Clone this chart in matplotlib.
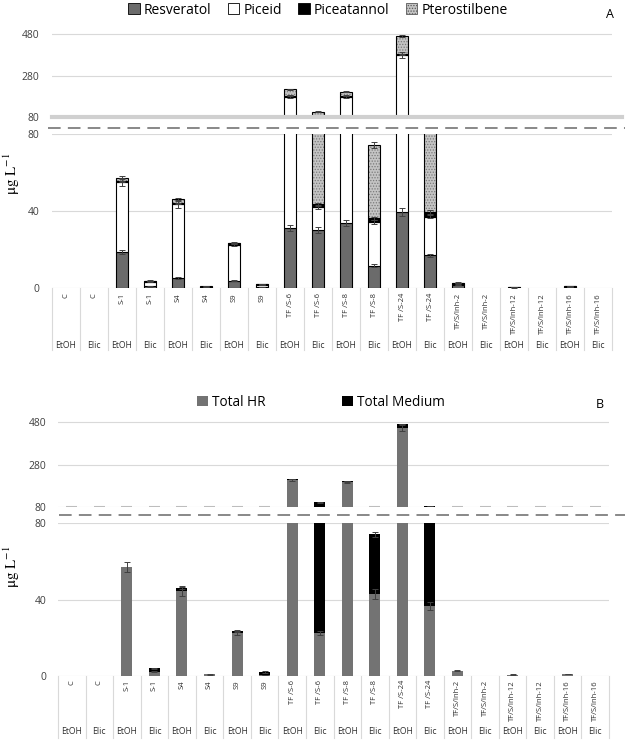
import matplotlib.pyplot as plt
import numpy as np
from matplotlib.patches import Patch
from matplotlib.lines import Line2D

plt.rcParams['font.family'] = ['Open Sans', 'DejaVu Sans']
plt.rcParams['hatch.linewidth'] = 0.6
plt.rcParams['mathtext.fontset'] = 'stix'

# categories (two-level axis)
cats = ['C', 'C', 'S-1', 'S-1', 'S4', 'S4', 'S9', 'S9',
        'TF /S-6', 'TF /S-6', 'TF /S-8', 'TF /S-8', 'TF /S-24', 'TF /S-24',
        'TF/S/Inh-2', 'TF/S/Inh-2', 'TF/S/Inh-12', 'TF/S/Inh-12', 'TF/S/Inh-16', 'TF/S/Inh-16']
groups = ['EtOH', 'Elic'] * 10

# panel A: stilbenes, ug/L
resveratol = np.array([0, 0, 18.9, 0.8, 5.2, 0.5, 3.7, 0.4, 31.3, 30.1, 33.6, 11.6, 39.6, 17.1, 1.6, 0, 0.2, 0, 0.6, 0])
piceid = np.array([0, 0, 36.3, 2.4, 38.4, 0, 18.8, 1.2, 147, 11.8, 144, 22.5, 338, 19.9, 0.6, 0, 0.2, 0, 0.2, 0])
piceatannol = np.array([0, 0, 0.3, 0.3, 0.5, 0.4, 0.8, 0.3, 5, 1.6, 4, 2.1, 5, 2.6, 0.3, 0, 0.1, 0, 0.3, 0])
pterostilbene = np.array([0, 0, 1.8, 0.3, 2, 0, 0.2, 0.3, 30, 62, 20, 37.9, 89, 45, 0.3, 0, 0, 0, 0, 0])

resveratol_err = np.array([0, 0, 1.0, 0.2, 0.3, 0.1, 0.3, 0.1, 1.5, 1.5, 1.5, 0.7, 2.0, 0.8, 0.2, 0, 0.1, 0, 0.1, 0])
piceid_err = np.array([0, 0, 2.0, 0.2, 2.0, 0, 0.5, 0.2, 8, 1.0, 8, 1.0, 15, 0.8, 0.2, 0, 0.1, 0, 0.1, 0])
piceatannol_err = np.array([0, 0, 0.2, 0.1, 0.3, 0.1, 0.3, 0.1, 2, 0.8, 2, 0.8, 2, 1.0, 0.1, 0, 0, 0, 0.1, 0])
pterostilbene_err = np.array([0, 0, 0.8, 0.1, 0.8, 0, 0.2, 0.1, 4, 1.5, 3, 1.5, 4, 1.0, 0.2, 0, 0, 0, 0, 0])

# panel B: totals
total_hr = np.array([0, 0, 57, 2.2, 44.5, 0.8, 22.5, 0.5, 207, 22.5, 199, 43, 455, 36.5, 2.8, 0, 0.6, 0, 1.0, 0])
total_medium = np.array([0, 0, 0, 1.8, 1.6, 0, 1.0, 1.6, 5, 80, 3, 31, 15, 48.5, 0, 0, 0, 0, 0, 0])
hr_err = np.array([0, 0, 2.5, 0.3, 2.5, 0.2, 1.0, 0.2, 6, 1.0, 5, 2.5, 15, 2.0, 0.3, 0, 0.2, 0, 0.2, 0])
medium_err = np.array([0, 0, 0, 0.3, 0.5, 0, 0.3, 0.3, 2, 3, 2, 1.5, 4, 1.0, 0, 0, 0, 0, 0, 0])

W, H = 625, 740
fig = plt.figure(figsize=(W / 100, H / 100), dpi=100)


def axes_px(left, top, right, bottom):
    return fig.add_axes([left / W, 1 - bottom / H, (right - left) / W, (bottom - top) / H])


axA_up = axes_px(52, 30, 612, 117)
axA_lo = axes_px(52, 134, 612, 288)
axB_up = axes_px(58, 418, 609, 507)
axB_lo = axes_px(58, 523, 609, 676)

x = np.arange(len(cats))
bw = 0.4
grid_c = '#d9d9d9'
err_kw = dict(fmt='none', ecolor='#404040', elinewidth=0.7, capsize=2, capthick=0.7, zorder=5)

for ax, pad in [(axA_up, 9), (axA_lo, 9), (axB_up, 8.5), (axB_lo, 8.5)]:
    for s in ax.spines.values():
        s.set_visible(False)
    ax.set_xlim(-0.5, len(cats) - 0.5)
    ax.set_xticks([])
    ax.tick_params(axis='y', length=0, labelsize=7.5, pad=pad, colors='#404040')
    ax.grid(axis='y', color=grid_c, lw=0.8)
    ax.set_axisbelow(True)

for ax in (axA_up, axB_up):
    ax.set_ylim(80, 500)
    ax.set_yticks([80, 280, 480])
for ax in (axA_lo, axB_lo):
    ax.set_ylim(0, 80)
    ax.set_yticks([0, 40, 80])


def stacked(ax, series):
    bottom = np.zeros(len(cats))
    for vals, err, style in series:
        m = vals > 0
        if style == 'hatch':
            ax.bar(x[m], vals[m], bw, bottom=bottom[m], color='#c4c4c4', edgecolor='#7a7a7a',
                   hatch='......', lw=0)
            ax.bar(x[m], vals[m], bw, bottom=bottom[m], fill=False, edgecolor='black', lw=0.8)
        else:
            ax.bar(x[m], vals[m], bw, bottom=bottom[m], **style)
        top = bottom + vals
        me = err > 0
        ax.errorbar(x[me], top[me], yerr=err[me], **err_kw)
        bottom = top


seriesA = [
    (resveratol, resveratol_err, dict(color='#6b6b6b', edgecolor='black', lw=0.8)),
    (piceid, piceid_err, dict(color='white', edgecolor='black', lw=0.8)),
    (piceatannol, piceatannol_err, dict(color='black', edgecolor='black', lw=0.8)),
    (pterostilbene, pterostilbene_err, 'hatch'),
]
seriesB = [
    (total_hr, hr_err, dict(color='#737373', lw=0)),
    (total_medium, medium_err, dict(color='black', lw=0)),
]
for ax in (axA_up, axA_lo):
    stacked(ax, seriesA)
for ax in (axB_up, axB_lo):
    stacked(ax, seriesB)

# short marks at the break for bars that stay below 80
low = (total_hr + total_medium) < 80
axB_up.hlines(np.full(low.sum(), 80.5), x[low] - bw / 2, x[low] + bw / 2, color='#bdbdbd', lw=1.5, zorder=3)


def draw_table(ax, depth, cat_top, group_y):
    h = ax.get_position().height * H
    tr = ax.get_xaxis_transform()
    for b in np.arange(-0.5, len(cats)):
        ax.plot([b, b], [0, -depth / h], transform=tr, clip_on=False, color=grid_c, lw=0.8)
    for i in range(len(cats)):
        ax.text(i, -cat_top / h, cats[i], rotation=90, ha='center', va='top', fontsize=5.5,
                transform=tr, color='#303030')
        ax.text(i, -group_y / h, groups[i], ha='center', va='center', fontsize=6.2,
                transform=tr, color='#303030')


draw_table(axA_lo, 62, 5, 57)
draw_table(axB_lo, 62, 4, 56)

# break lines
fig.add_artist(Line2D([52 / W, 622 / W], [1 - 117 / H] * 2, color='#d0d0d0', lw=3, zorder=10))
fig.add_artist(Line2D([48 / W, 1.0], [1 - 128 / H] * 2, color='#7f7f7f', lw=1.3, dashes=(7, 4)))
fig.add_artist(Line2D([59 / W, 1.0], [1 - 515 / H] * 2, color='#7f7f7f', lw=1.3, dashes=(7, 4)))

# legends
handlesA = [Patch(facecolor='#6b6b6b', edgecolor='black', lw=0.6),
            Patch(facecolor='white', edgecolor='black', lw=0.6),
            Patch(facecolor='black', edgecolor='black', lw=0.6),
            Patch(facecolor='#c4c4c4', edgecolor='#5a5a5a', hatch='......', lw=0.6)]
fig.legend(handlesA, ['Resveratol', 'Piceid', 'Piceatannol', 'Pterostilbene'],
           loc='center', bbox_to_anchor=(318 / W, 1 - 10 / H), ncol=4, frameon=False,
           fontsize=10, handlelength=0.8, handleheight=0.8, handletextpad=0.3, columnspacing=1.2)
handlesB = [Patch(facecolor='#737373'), Patch(facecolor='black')]
fig.legend(handlesB, ['Total HR', 'Total Medium'],
           loc='center', bbox_to_anchor=(321 / W, 1 - 402 / H), ncol=2, frameon=False,
           fontsize=9.8, handlelength=0.8, handleheight=0.8, handletextpad=0.3, columnspacing=5.6)

fig.text(610 / W, 1 - 15 / H, 'A', ha='center', va='center', fontsize=9)
fig.text(600 / W, 1 - 405 / H, 'B', ha='center', va='center', fontsize=9)

ylab = r'$\mathrm{μg\ L^{-1}}$'
fig.text(12 / W, 1 - 174 / H, ylab, rotation=90, ha='center', va='center', fontsize=11)
fig.text(12 / W, 1 - 567 / H, ylab, rotation=90, ha='center', va='center', fontsize=11)

fig.savefig('out.png', dpi=100)
